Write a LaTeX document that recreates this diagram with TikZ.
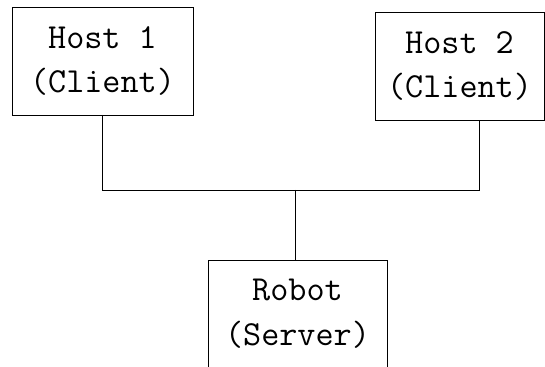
\documentclass[tikz,border=0pt]{standalone}
\usepackage{tikz}

\tikzset{
  hostbox/.style={draw, line width=0.016cm, rectangle, inner sep=0pt, outer sep=0pt,
    minimum height=2.16cm, align=center, font=\ttfamily\fontsize{20}{25.5}\selectfont},
  wire/.style={line width=0.016cm}
}

\begin{document}
\begin{tikzpicture}
            \useasboundingbox (0.000000,0.000000) rectangle (10.900000,7.340000);
            
            % Drawing box Host 1
            \node [hostbox, minimum width=3.62cm] (host1) at (2.050000,6.120000) {Host 1\\(Client)};%
            
            % Drawing box Host 2
            \node [hostbox, minimum width=3.38cm] (host2) at (9.190000,6.020000) {Host 2\\(Client)};%
            \coordinate (h2foot) at (9.580000,4.940000);%
            
            % Drawing box Robot
            \node [hostbox, minimum width=3.58cm] (robot) at (5.950000,1.060000) {Robot\\(Server)};%
            
            % Drawing bus line
            \coordinate (bus) at (5.900000,3.540000);%
            \draw [wire] (host1.south) -- (host1.south |- bus) -- (h2foot |- bus) -- (h2foot);%
            \draw [wire] (bus) -- (bus |- robot.north);%
\end{tikzpicture}
\end{document}
